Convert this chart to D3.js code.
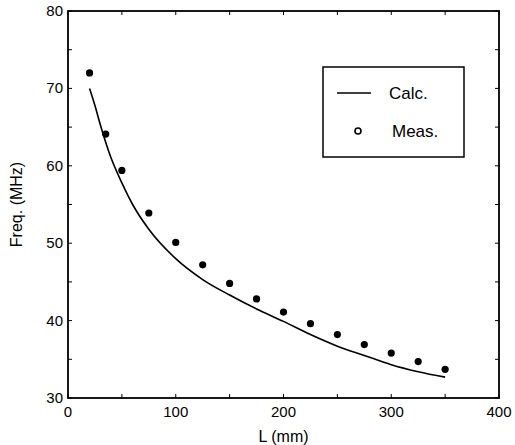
<!DOCTYPE html>
<html>
<head>
<meta charset="utf-8">
<script src="https://cdn.jsdelivr.net/npm/d3@7"></script>
<style>
  body { margin: 0; background: #fff; }
  svg { font-family: "Liberation Sans", Arial, sans-serif; }
</style>
</head>
<body>
<script>
// values
const calcL = [20, 25, 30, 40, 50, 60, 75, 100, 125, 150, 175, 200, 225, 250, 275, 300, 325, 350]
const calcF = [70.0, 67.8, 65.3, 61.0, 57.8, 55.0, 51.8, 48.0, 45.3, 43.3, 41.5, 39.9, 38.2, 36.7, 35.5, 34.3, 33.4, 32.7]

const measL = [20, 35, 50, 75, 100, 125, 150, 175, 200, 225, 250, 275, 300, 325, 350]
const measF = [72.0, 64.1, 59.4, 53.9, 50.1, 47.2, 44.8, 42.8, 41.1, 39.6, 38.2, 36.9, 35.8, 34.7, 33.7]

const xTicks = [0, 100, 200, 300, 400]
const yTicks = [30, 40, 50, 60, 70, 80]
const legendItems = ["Calc.", "Meas."]

const width = 515
const height = 445
const margin = { top: 11, right: 16, bottom: 47, left: 68 }

const x = d3.scaleLinear().domain([0, 400]).range([margin.left, width - margin.right])
const y = d3.scaleLinear().domain([30, 80]).range([height - margin.bottom, margin.top])

const svg = d3.select("body").append("svg")
    .attr("width", width)
    .attr("height", height)

// small inward ticks on all four sides
const minorX = d3.range(0, 401, 50)
const minorY = d3.range(30, 81, 5)
const tk = svg.append("g").attr("stroke", "#000").attr("stroke-width", 1)
minorX.forEach(v => {
    tk.append("line").attr("x1", x(v)).attr("x2", x(v)).attr("y1", y(30)).attr("y2", y(30) - 4)
    tk.append("line").attr("x1", x(v)).attr("x2", x(v)).attr("y1", y(80)).attr("y2", y(80) + 4)
})
minorY.forEach(v => {
    tk.append("line").attr("x1", x(0)).attr("x2", x(0) + 4).attr("y1", y(v)).attr("y2", y(v))
    tk.append("line").attr("x1", x(400)).attr("x2", x(400) - 4).attr("y1", y(v)).attr("y2", y(v))
})

// frame
svg.append("rect")
    .attr("x", x(0))
    .attr("y", y(80))
    .attr("width", x(400) - x(0))
    .attr("height", y(30) - y(80))
    .attr("fill", "none")
    .attr("stroke", "#000")
    .attr("stroke-width", 1.8)

// tick labels
svg.append("g")
    .style("font-size", "15px")
    .selectAll("text")
    .data(xTicks)
    .enter()
    .append("text")
    .attr("x", d => x(d))
    .attr("y", y(30) + 19)
    .attr("text-anchor", "middle")
    .text(d => d)

svg.append("g")
    .style("font-size", "15px")
    .selectAll("text")
    .data(yTicks)
    .enter()
    .append("text")
    .attr("x", x(0) - 5)
    .attr("y", d => y(d) + 5)
    .attr("text-anchor", "end")
    .text(d => d)

// axis titles
svg.append("text")
    .attr("x", (x(0) + x(400)) / 2)
    .attr("y", height - 3)
    .attr("text-anchor", "middle")
    .style("font-size", "16px")
    .text("L (mm)")

svg.append("text")
    .attr("transform", `translate(22,${(y(30) + y(80)) / 2}) rotate(-90)`)
    .attr("text-anchor", "middle")
    .style("font-size", "16px")
    .text("Freq. (MHz)")

// calculated curve
const line = d3.line()
    .x(d => x(d[0]))
    .y(d => y(d[1]))
    .curve(d3.curveMonotoneX)

svg.append("path")
    .datum(calcL.map((l, i) => [l, calcF[i]]))
    .attr("d", line)
    .attr("fill", "none")
    .attr("stroke", "#000")
    .attr("stroke-width", 1.6)

// measured points
svg.append("g")
    .selectAll("circle")
    .data(measL.map((l, i) => [l, measF[i]]))
    .enter()
    .append("circle")
    .attr("cx", d => x(d[0]))
    .attr("cy", d => y(d[1]))
    .attr("r", 3.6)
    .attr("fill", "#000")

// legend
const lg = svg.append("g").attr("transform", "translate(323,67)")
lg.append("rect")
    .attr("width", 141)
    .attr("height", 90)
    .attr("fill", "#fff")
    .attr("stroke", "#000")
    .attr("stroke-width", 1.5)
lg.append("line")
    .attr("x1", 14).attr("x2", 48)
    .attr("y1", 26).attr("y2", 26)
    .attr("stroke", "#000")
    .attr("stroke-width", 1.5)
lg.append("circle")
    .attr("cx", 35).attr("cy", 64)
    .attr("r", 3)
    .attr("fill", "#fff")
    .attr("stroke", "#000")
    .attr("stroke-width", 1.6)
lg.selectAll("text")
    .data(legendItems)
    .enter()
    .append("text")
    .attr("x", (d, i) => i === 0 ? 66 : 69)
    .attr("y", (d, i) => i === 0 ? 32 : 70)
    .style("font-size", "17px")
    .text(d => d)
</script>
</body>
</html>
